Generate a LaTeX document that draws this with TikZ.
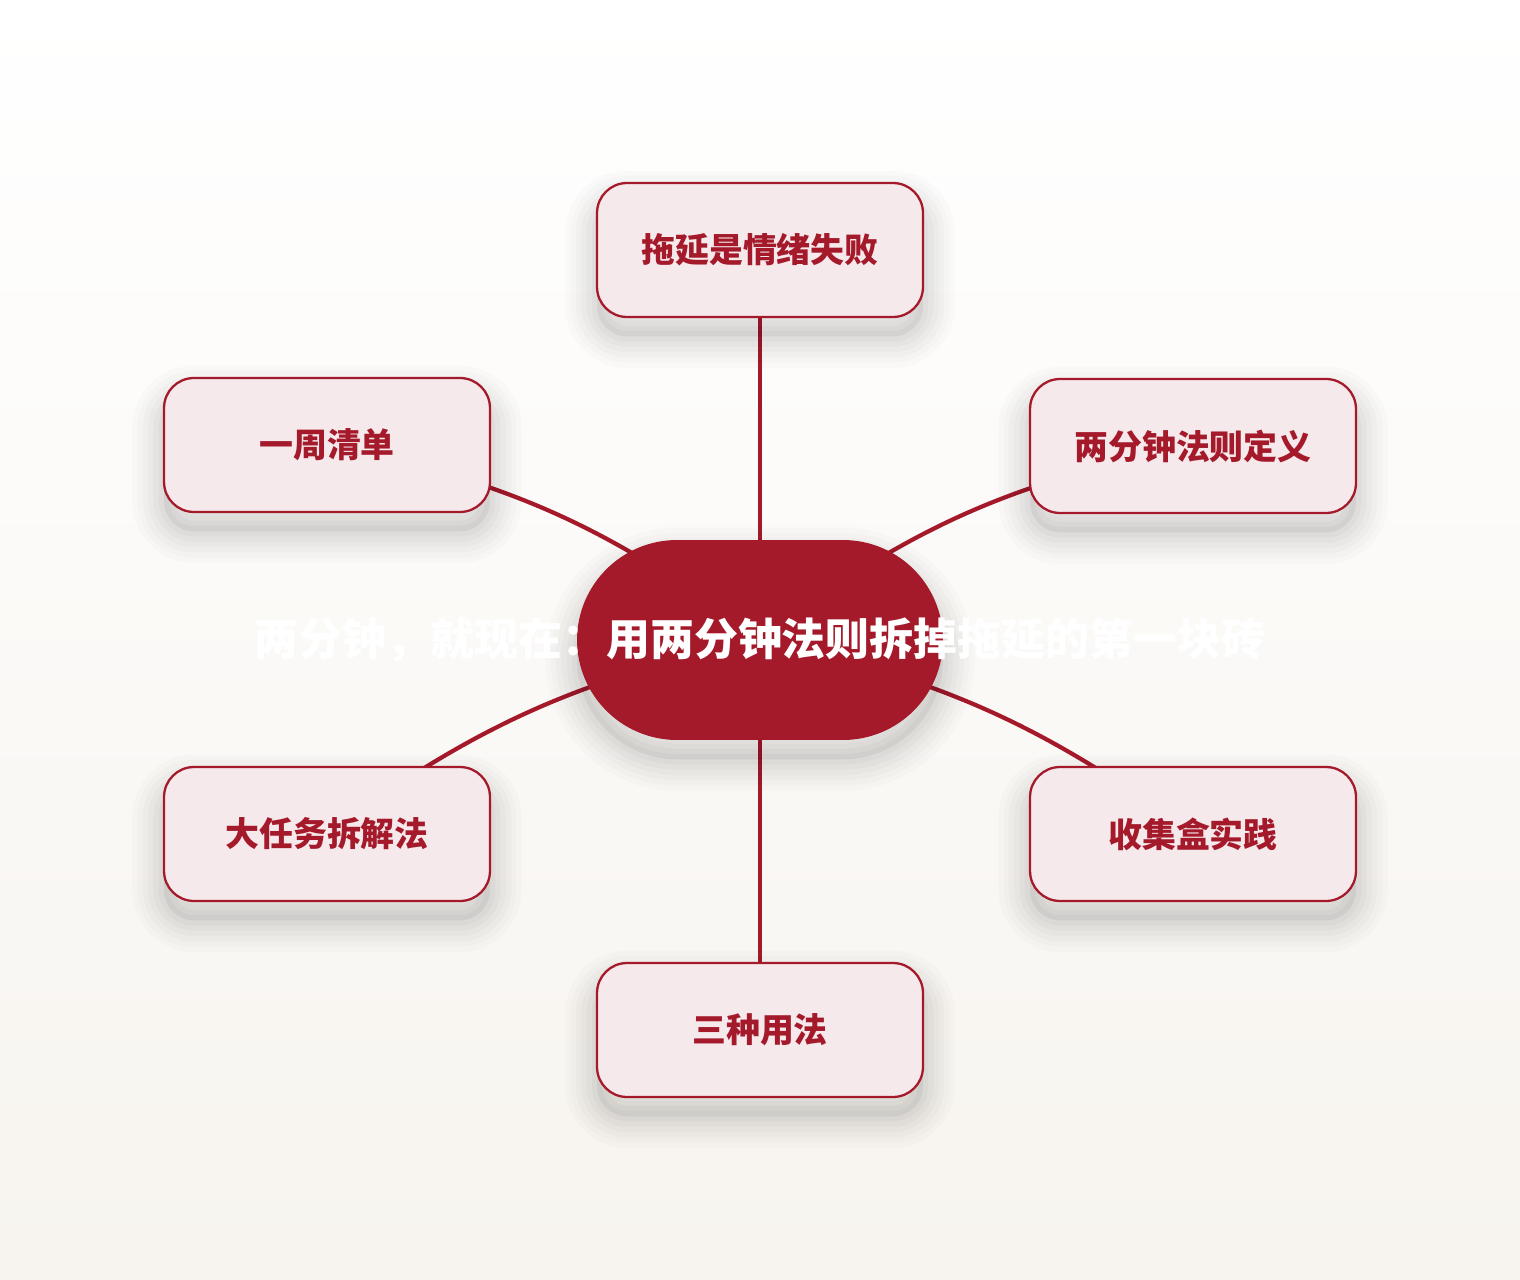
\documentclass[tikz,border=0pt]{standalone}
\usepackage{fontspec}
\setmainfont{Noto Sans CJK SC}
\usetikzlibrary{shapes.misc}
\definecolor{brick}{HTML}{A51A2B}
\definecolor{blush}{HTML}{F5E9EC}
\definecolor{paperlo}{HTML}{F7F4EF}
\pgfdeclarelayer{paper}
\pgfdeclarelayer{wires}
\pgfsetlayers{paper,wires,main}
\tikzset{
  halo/.style={
    preaction={draw=black,draw opacity=.014,line width=36pt,transform canvas={yshift=-11pt}},
    preaction={draw=black,draw opacity=.016,line width=30pt,transform canvas={yshift=-11pt}},
    preaction={draw=black,draw opacity=.018,line width=24pt,transform canvas={yshift=-11pt}},
    preaction={draw=black,draw opacity=.02,line width=18pt,transform canvas={yshift=-11pt}},
    preaction={draw=black,draw opacity=.022,line width=12pt,transform canvas={yshift=-11pt}},
    preaction={draw=black,draw opacity=.024,line width=6pt,transform canvas={yshift=-11pt}},
    preaction={fill=black,fill opacity=.05,transform canvas={yshift=-11pt}}},
  hub/.style={rounded rectangle,fill=brick,minimum width=7.32cm,minimum height=4cm,
    inner sep=0pt,text=white,font=\fontsize{25}{30}\selectfont\bfseries,halo},
  leaf/.style={rectangle,rounded corners=.6cm,draw=brick,line width=1.3pt,fill=blush,
    minimum width=6.52cm,minimum height=2.68cm,text=brick,
    font=\fontsize{19.3}{23}\selectfont\bfseries,halo},
  wire/.style={brick,line width=2.4pt}
}
\begin{document}
\begin{tikzpicture}[x=.02cm,y=-.02cm]
  \begin{pgfonlayer}{paper}
    \fill[top color=white,bottom color=paperlo] (0,0) rectangle (1520,1280);
  \end{pgfonlayer}
  \node[hub] (core) at (760,640) {\makebox[0pt]{两分钟，就现在：用两分钟法则拆掉拖延的第一块砖}};
  \node[leaf] (emo) at (760,250) {拖延是情绪失败};
  \node[leaf] (rule) at (1193,446) {两分钟法则定义};
  \node[leaf] (inbox) at (1193,834) {收集盒实践};
  \node[leaf] (uses) at (760,1030) {三种用法};
  \node[leaf] (split) at (327,834) {大任务拆解法};
  \node[leaf] (week) at (327,445) {一周清单};
  \begin{pgfonlayer}{wires}
    \draw[wire] (core.center) -- (emo.center);
    \draw[wire] (core.center) to[bend left=13] (rule.center);
    \draw[wire] (core.center) to[bend left=12] (inbox.center);
    \draw[wire] (core.center) -- (uses.center);
    \draw[wire] (core.center) to[bend right=12] (split.center);
    \draw[wire] (core.center) to[bend right=13] (week.center);
  \end{pgfonlayer}
\end{tikzpicture}
\end{document}
